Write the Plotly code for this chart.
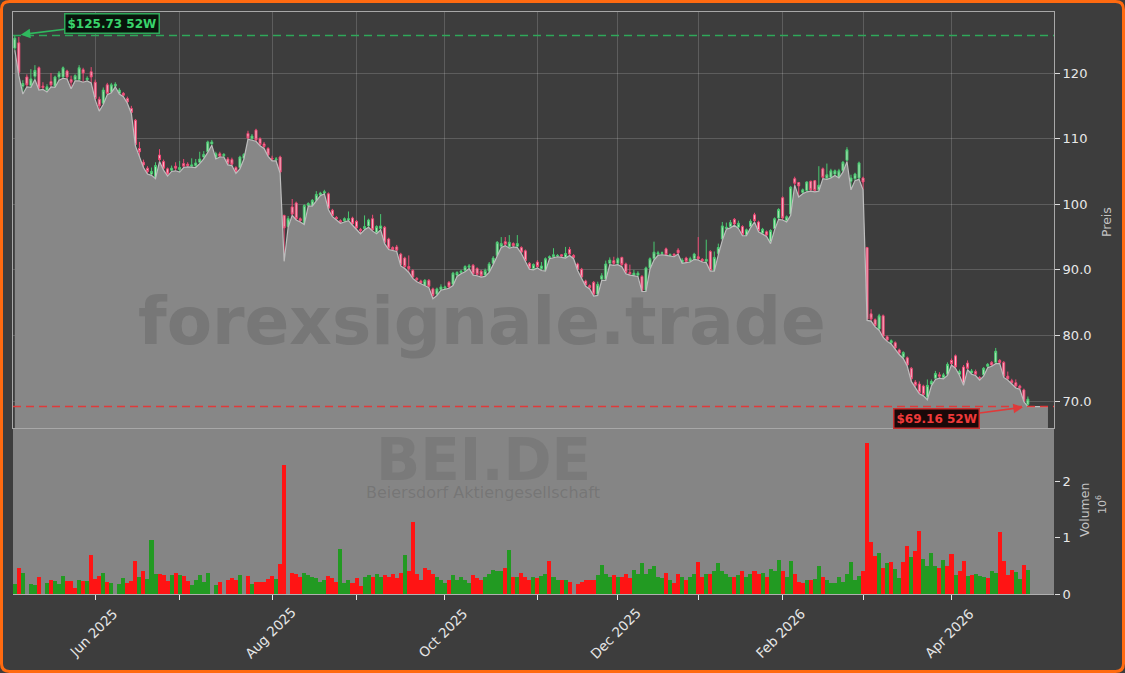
import pandas as pd
import plotly.graph_objects as go

# ---------------- data ----------------
opens = [123.8,124.6,118.0,119.4,118.1,119.5,120.8,118.0,117.4,118.7,118.0,119.4,119.4,120.3,119.0,119.0,119.0,120.5,119.0,120.2,
         118.6,116.0,115.4,118.2,117.1,118.0,116.9,116.9,116.1,114.6,112.8,108.5,106.4,105.5,104.6,104.1,107.5,106.5,105.4,105.2,
         105.8,105.3,106.2,106.1,105.8,105.9,106.4,107.2,108.0,109.2,107.1,107.7,107.4,106.9,106.8,105.6,105.6,107.0,110.8,110.0,
         111.3,110.0,109.2,108.5,107.0,106.8,107.2,98.3,96.6,99.6,100.2,97.8,97.0,99.8,99.8,100.6,101.4,101.7,101.6,99.1,
         98.0,97.5,97.5,97.6,97.9,97.4,96.2,96.3,96.7,97.8,95.7,96.3,96.5,94.7,93.4,93.5,92.4,91.8,90.5,89.9,
         88.7,88.3,87.6,88.4,87.1,86.3,87.0,87.2,88.1,87.8,89.2,89.6,89.9,90.4,90.7,90.2,89.8,89.2,89.8,91.0,
         92.2,93.6,94.3,93.5,94.0,93.6,93.4,92.9,91.0,90.2,91.2,90.2,89.9,91.8,92.0,92.1,92.3,91.9,93.1,92.2,
         90.9,90.1,88.3,87.6,88.1,86.3,88.6,88.6,91.0,91.4,91.0,91.9,90.9,89.6,89.2,89.2,89.0,86.9,90.3,91.7,
         92.4,92.5,93.2,92.2,92.4,93.0,91.1,91.8,91.3,91.7,92.0,91.6,91.3,92.8,89.9,92.5,94.7,96.3,96.6,97.7,
         96.5,96.6,95.3,96.6,98.4,97.3,95.6,95.8,94.3,96.3,97.9,101.0,97.5,98.5,103.9,103.3,101.8,102.1,103.5,103.6,
         102.2,105.4,104.0,104.1,104.6,104.1,105.1,106.7,103.5,103.9,104.0,104.0,93.4,83.3,82.4,81.0,83.0,79.8,78.9,78.9,
         77.8,76.7,76.6,75.0,72.9,72.6,72.3,70.6,72.6,73.5,74.0,73.6,74.1,76.2,76.9,74.1,75.2,75.8,74.3,74.5,
         73.6,74.0,75.3,75.9,75.9,76.2,75.9,73.8,73.1,72.8,72.3,71.7,69.5]
highs = [125.73,125.5,118.9,119.8,120.6,121.2,121.0,118.6,118.3,120.0,119.6,120.3,121.0,120.5,119.6,119.8,121.2,120.8,119.5,120.9,
         119.0,116.4,117.8,118.5,118.5,118.6,117.7,117.1,116.4,115.0,113.0,109.5,106.8,105.8,105.6,106.4,108.4,106.8,105.6,105.9,
         106.4,106.6,106.9,106.4,107.0,106.9,108.0,108.1,109.7,109.8,108.0,108.0,107.8,107.2,107.1,105.8,107.4,107.8,111.2,110.7,
         111.5,110.2,109.5,108.7,107.4,107.2,107.4,98.4,98.2,100.8,100.4,98.0,100.0,100.3,100.8,102.0,101.9,102.2,101.8,99.3,
         98.2,97.7,98.0,98.9,98.1,97.6,96.4,98.3,97.8,98.4,96.8,98.5,96.7,94.9,93.6,93.8,92.6,92.0,92.2,90.1,
         88.9,88.5,88.6,88.6,87.3,87.3,87.8,87.6,88.3,89.7,89.8,90.0,90.7,90.9,90.9,90.4,90.0,90.2,91.2,92.1,
         94.4,95.0,95.0,95.3,94.2,95.3,93.6,93.1,91.2,91.0,91.5,91.2,91.9,92.2,93.3,92.4,92.4,93.5,93.5,92.4,
         91.1,90.3,88.5,87.8,88.3,88.2,89.5,91.4,91.9,92.0,91.9,92.0,91.1,90.8,90.0,89.8,89.2,90.5,91.9,94.3,
         92.9,92.8,93.4,92.5,92.5,93.3,91.8,92.0,92.0,92.6,95.0,91.8,94.6,93.0,92.8,94.0,97.3,97.2,97.6,97.9,
         97.5,96.8,96.3,97.7,98.7,97.5,96.4,96.0,96.2,98.0,99.4,101.2,98.3,102.8,104.2,103.4,102.4,103.5,103.6,103.7,
         105.8,105.6,106.2,105.4,105.3,105.4,106.6,108.7,104.5,104.8,106.5,104.2,93.5,84.0,82.6,83.3,83.2,80.0,79.4,79.1,
         78.0,77.6,76.8,75.2,73.2,73.0,72.5,73.3,73.3,74.6,74.4,74.3,75.9,76.5,77.1,74.8,75.5,76.2,74.9,74.8,
         73.8,75.2,75.8,76.1,78.1,76.4,76.1,74.5,73.4,73.3,72.5,71.9,70.7]
lows = [123.5,119.6,116.8,117.9,117.8,119.0,117.4,117.5,117.1,117.9,117.8,118.9,119.2,119.1,117.6,118.8,118.8,118.6,118.8,118.5,
        115.9,114.2,115.2,116.7,117.0,117.9,116.8,116.4,115.4,113.8,108.9,107.2,105.6,104.6,104.4,103.9,106.5,105.2,104.3,105.0,
        105.1,104.9,105.6,105.7,105.6,105.6,106.2,106.9,107.9,109.0,106.9,107.2,107.2,106.0,105.9,104.7,105.4,106.9,109.9,109.8,
        109.6,108.9,108.5,107.3,106.6,106.6,104.7,91.3,96.5,98.3,97.6,97.3,96.9,99.7,99.7,100.5,101.3,101.6,99.2,98.1,
        97.6,97.1,97.3,97.5,96.8,96.2,95.5,96.1,96.5,95.9,95.5,96.1,94.0,93.1,92.9,92.8,90.6,90.2,89.6,88.7,
        88.2,87.9,87.5,87.3,85.6,86.1,86.9,87.0,87.2,87.6,89.0,89.4,89.7,90.2,89.2,89.1,88.9,89.0,89.6,90.8,
        92.0,93.4,93.7,93.3,93.5,93.4,92.5,91.2,90.1,90.0,90.3,89.9,89.8,91.7,91.9,92.0,91.9,91.8,92.2,91.7,
        89.9,88.7,87.5,87.1,86.0,86.1,88.4,88.4,90.8,90.7,90.8,90.5,89.4,89.2,89.1,89.0,86.7,86.7,90.1,91.5,
        92.2,92.3,92.2,92.1,92.0,92.4,91.0,91.1,91.2,91.6,91.5,91.2,91.1,89.8,89.8,92.3,94.5,96.2,96.4,96.8,
        96.3,95.2,95.2,96.4,97.3,95.8,95.4,95.1,94.0,96.1,97.7,97.6,97.3,98.3,102.9,101.1,101.6,101.9,102.0,101.9,
        102.0,103.9,103.8,104.0,104.4,104.0,104.9,106.5,102.2,103.6,103.8,102.2,82.3,82.2,81.3,80.8,79.7,79.1,78.7,77.9,
        77.1,76.5,75.3,73.0,72.0,71.1,70.8,70.2,72.3,73.3,73.5,73.4,73.9,75.5,75.0,73.9,72.4,74.8,74.1,73.9,
        73.2,73.8,75.1,75.3,75.7,75.7,73.6,73.2,72.6,72.0,71.8,69.9,69.16]
closes = [125.3,120.1,118.4,118.2,119.1,120.4,117.7,117.8,117.9,118.2,119.4,120.0,120.8,119.4,118.6,119.6,120.8,120.0,119.2,119.4,
          116.1,115.0,117.4,116.9,118.2,118.3,117.4,116.6,115.6,114.0,109.1,108.0,106.0,105.0,105.0,105.9,106.8,105.5,104.6,105.5,
          105.5,105.6,105.8,105.9,106.0,106.3,106.9,107.6,109.5,109.5,107.7,107.3,107.6,106.2,106.1,105.0,107.2,107.6,110.1,110.4,
          109.8,109.1,108.8,107.5,106.9,106.9,104.9,96.4,97.8,98.5,97.8,97.5,99.8,100.1,100.6,101.5,101.7,101.9,99.4,98.3,
          97.8,97.3,97.8,97.8,97.0,96.4,96.0,96.6,97.6,96.1,96.6,96.7,94.2,93.3,93.1,93.0,90.8,90.5,90.2,88.9,
          88.5,88.0,88.4,87.5,86.1,87.1,87.4,87.4,87.4,89.5,89.6,89.8,90.5,90.6,89.4,89.3,89.1,89.9,90.9,91.8,
          94.2,94.0,93.9,94.2,93.7,94.0,92.7,91.4,90.3,90.8,90.5,90.6,91.7,92.0,92.3,92.2,92.1,92.5,92.4,91.9,
          90.1,88.9,87.7,87.3,86.3,87.8,89.1,90.9,91.5,91.0,91.7,90.8,89.6,89.4,89.5,89.5,86.9,90.3,91.7,92.7,
          92.6,92.6,92.3,92.3,92.2,92.6,91.5,91.3,91.7,92.4,91.7,91.4,91.6,89.9,91.9,93.4,96.7,96.5,97.2,97.0,
          97.1,95.4,96.1,97.4,97.5,96.0,96.2,95.3,96.0,97.8,99.2,97.9,98.1,102.6,103.2,102.8,102.2,103.4,102.2,102.1,
          102.9,104.1,104.5,105.1,105.1,105.1,106.4,108.3,104.0,104.6,106.3,103.4,82.5,82.5,81.5,83.0,79.9,79.3,79.2,78.1,
          77.3,77.4,75.5,73.4,72.4,71.3,71.0,72.4,73.0,74.2,73.8,74.0,75.6,75.7,75.2,74.5,72.6,75.0,74.6,74.1,
          73.4,75.0,75.6,75.5,77.6,75.9,73.8,73.4,72.8,72.3,72.0,70.0,70.3]
# volume in millions of shares, and bar colour (1 = green, 0 = red) as seen in the picture
volume_mio = [0.18,0.46,0.37,0.0,0.18,0.16,0.31,0.0,0.20,0.25,0.23,0.18,0.32,0.23,0.23,0.10,0.25,0.23,0.23,0.70,
              0.27,0.32,0.37,0.22,0.20,0.0,0.18,0.29,0.20,0.23,0.59,0.31,0.41,0.27,0.96,0.35,0.35,0.34,0.23,0.34,
              0.37,0.34,0.32,0.23,0.16,0.25,0.34,0.22,0.37,0.0,0.16,0.22,0.0,0.25,0.29,0.25,0.34,0.0,0.32,0.18,
              0.22,0.22,0.22,0.27,0.32,0.27,0.53,2.29,0.0,0.37,0.35,0.30,0.38,0.33,0.30,0.28,0.22,0.25,0.32,0.28,
              0.22,0.80,0.20,0.25,0.20,0.28,0.15,0.30,0.33,0.30,0.35,0.30,0.33,0.30,0.35,0.28,0.38,0.70,0.40,1.28,
              0.35,0.25,0.47,0.42,0.35,0.30,0.25,0.20,0.25,0.33,0.25,0.30,0.25,0.20,0.33,0.28,0.25,0.30,0.35,0.42,
              0.40,0.40,0.47,0.78,0.30,0.30,0.38,0.30,0.25,0.30,0.28,0.32,0.35,0.58,0.30,0.25,0.25,0.25,0.22,0.0,
              0.18,0.22,0.25,0.25,0.25,0.33,0.52,0.35,0.30,0.33,0.30,0.30,0.35,0.28,0.42,0.35,0.55,0.35,0.45,0.50,
              0.30,0.28,0.38,0.25,0.20,0.35,0.30,0.25,0.30,0.35,0.57,0.30,0.35,0.35,0.40,0.55,0.40,0.35,0.30,0.30,
              0.33,0.40,0.30,0.35,0.40,0.35,0.38,0.30,0.45,0.40,0.60,0.40,0.30,0.58,0.35,0.22,0.19,0.25,0.24,0.27,
              0.50,0.31,0.25,0.20,0.20,0.31,0.22,0.35,0.56,0.24,0.32,0.41,2.69,0.92,0.67,0.72,0.46,0.55,0.57,0.45,
              0.29,0.57,0.86,0.65,0.77,1.12,0.63,0.49,0.72,0.50,0.46,0.61,0.50,0.71,0.34,0.41,0.59,0.32,0.34,0.35,
              0.32,0.31,0.29,0.41,0.37,1.10,0.59,0.34,0.43,0.39,0.27,0.52,0.43]
volume_up = [1,0,1,0,1,1,0,0,1,0,1,1,1,0,0,0,1,0,1,0,
             0,0,1,0,1,1,1,1,0,0,0,1,0,1,1,1,0,0,0,1,
             0,1,0,0,1,1,1,1,1,1,1,0,0,0,0,0,1,1,0,1,
             0,0,0,0,0,1,0,0,0,0,0,0,1,1,1,1,1,1,0,0,
             0,1,1,1,0,0,0,1,1,0,1,1,0,0,0,0,0,1,0,0,
             0,0,0,0,0,1,1,1,0,1,1,1,1,1,0,0,0,1,1,1,
             1,1,0,1,0,1,0,0,0,1,0,1,1,0,1,1,0,1,0,0,
             0,0,0,0,0,1,1,1,1,0,1,0,0,0,1,1,1,1,1,1,
             1,1,0,1,0,0,1,0,1,1,0,0,1,0,1,1,1,1,1,0,
             1,0,1,1,0,0,1,0,1,1,1,0,1,1,0,0,0,1,0,1,
             1,0,1,1,1,1,1,1,1,1,1,0,0,0,0,1,0,1,0,1,
             1,0,0,1,0,0,1,1,1,1,0,1,0,0,1,0,0,1,0,1,
             1,1,0,1,1,0,0,0,0,1,1,0,1]

holidays = ["2025-12-24", "2025-12-25", "2025-12-26", "2026-01-01", "2026-04-03", "2026-04-06"]
dates = [d for d in pd.bdate_range("2025-05-05", "2026-04-30") if d.strftime("%Y-%m-%d") not in holidays]
symbol = "BEI.DE"
company = "Beiersdorf Aktiengesellschaft"
watermark = "forexsignale.trade"
price_ticks = [70, 80, 90, 100, 110, 120]
price_ticktext = ["70.0", "80.0", "90.0", "100", "110", "120"]

# ---------------- styling constants ----------------
BG = "#3d3d3d"
FILL = "#878787"
W, H = 1125, 673
ML, MR, MT, MB = 13, 71, 12, 79
PW, PH = W - ML - MR, H - MT - MB
SPLIT = (594 - 428) / PH          # volume panel height fraction
FONT = "DejaVu Sans"
FILL_EXT = 5

n = len(closes)
idx = list(range(n))

# month ticks (first trading day of each month)
month_pos, month_lbl = [], []
prev = dates[0].month
for i, d in enumerate(dates):
    if d.month != prev:
        month_pos.append(i)
        month_lbl.append(d.strftime("%b %Y") if d.month % 2 == 0 else "")
        prev = d.month

fig = go.Figure()

# price area (lows) with flat extension
area_x = idx + [idx[-1] + FILL_EXT]
area_y = lows + [lows[-1]]
fig.add_trace(go.Scatter(x=area_x, y=area_y, mode="lines", fill="tozeroy",
                         fillcolor=FILL, line=dict(color="#bdbdbd", width=1.2),
                         hoverinfo="skip", showlegend=False, xaxis="x", yaxis="y"))

fig.add_trace(go.Candlestick(
    x=idx, open=opens, high=highs, low=lows, close=closes,
    increasing=dict(line=dict(color="#48c870", width=1), fillcolor="#b4e8bc"),
    decreasing=dict(line=dict(color="#ee4874", width=1), fillcolor="#f9bccb"),
    showlegend=False, xaxis="x", yaxis="y"))

vol_colors = ["#229a22" if u else "#ff1414" for u in volume_up]
fig.add_trace(go.Bar(x=idx, y=volume_mio, marker=dict(color=vol_colors, line=dict(width=0)),
                     width=1.0, showlegend=False, xaxis="x2", yaxis="y2"))

x_range = [-0.45, 258.5]
fig.update_layout(
    width=W, height=H,
    margin=dict(l=ML, r=MR, t=MT, b=MB),
    paper_bgcolor=BG, plot_bgcolor=BG,
    font=dict(family=FONT, color="#e6e6e6", size=13),
    bargap=0,
    xaxis=dict(domain=[0, 1], anchor="y", range=x_range, rangeslider=dict(visible=False),
               tickvals=month_pos, showticklabels=False, ticks="",
               showgrid=True, gridcolor="rgba(255,255,255,0.17)", gridwidth=1,
               showline=True, mirror=True, linecolor="#a8a8a8", linewidth=1, zeroline=False),
    yaxis=dict(domain=[SPLIT, 1], anchor="x", side="right", range=[65.9, 129.3],
               tickvals=price_ticks, ticktext=price_ticktext,
               ticks="outside", ticklen=5, tickcolor="#dddddd", tickfont=dict(size=13, color="#e8e8e8"),
               showgrid=True, gridcolor="rgba(255,255,255,0.17)", gridwidth=1,
               showline=True, mirror=True, linecolor="#a8a8a8", linewidth=1, zeroline=False),
    xaxis2=dict(domain=[0, 1], anchor="y2", range=x_range, matches="x",
                tickvals=month_pos, showticklabels=False, ticks="outside", ticklen=5,
                tickcolor="#e6e6e6", showgrid=False, showline=True, linecolor="#b0b0b0",
                linewidth=1, zeroline=False),
    yaxis2=dict(domain=[0, SPLIT], anchor="x2", side="right", range=[0, 2.95],
                tickvals=[0, 1, 2], ticktext=["0", "1", "2"],
                ticks="outside", ticklen=5, tickcolor="#dddddd", tickfont=dict(size=13, color="#e8e8e8"),
                showgrid=False, showline=False, zeroline=False),
)

def px2paper(px, py):
    return (px - ML) / PW, (H - MB - py) / PH

shapes = []
# volume panel background
shapes.append(dict(type="rect", xref="x2 domain", yref="y2 domain", x0=0, x1=1, y0=0, y1=1,
                   fillcolor="#858585", line=dict(width=0), layer="below"))
hi_val, lo_val = max(highs), min(lows)
shapes.append(dict(type="line", xref="x domain", yref="y", x0=0, x1=1, y0=hi_val, y1=hi_val,
                   line=dict(color="#2fa85a", width=1.5, dash="8px,5px")))
shapes.append(dict(type="line", xref="x domain", yref="y", x0=0, x1=1, y0=lo_val, y1=lo_val,
                   line=dict(color="#e03a3a", width=1.5, dash="8px,5px")))
# rounded orange frame around the figure
L_, T_, R_, B_, r = 1.5, 1.5, W - 1.5, H - 1.5, 8
pts = lambda a, b: "%.5f,%.5f" % px2paper(a, b)
path = ("M " + pts(L_ + r, T_) + " L " + pts(R_ - r, T_) + " Q " + pts(R_, T_) + " " + pts(R_, T_ + r) +
        " L " + pts(R_, B_ - r) + " Q " + pts(R_, B_) + " " + pts(R_ - r, B_) +
        " L " + pts(L_ + r, B_) + " Q " + pts(L_, B_) + " " + pts(L_, B_ - r) +
        " L " + pts(L_, T_ + r) + " Q " + pts(L_, T_) + " " + pts(L_ + r, T_) + " Z")
shapes.append(dict(type="path", xref="paper", yref="paper", path=path,
                   line=dict(color="#ff6a10", width=3)))
fig.update_layout(shapes=shapes)

ann = []
def text_at(px, py, text, size, color, angle=0, bold=False):
    x_, y_ = px2paper(px, py)
    ann.append(dict(x=x_, y=y_, xref="paper", yref="paper", xanchor="center", yanchor="middle",
                    text=("<b>%s</b>" % text) if bold else text, showarrow=False, textangle=angle,
                    font=dict(size=size, color=color, family=FONT)))

# watermark texts
text_at(482, 321, watermark, 66, "rgba(55,55,55,0.2)", bold=True)
text_at(483, 460, symbol, 58, "rgba(55,55,55,0.14)", bold=True)
text_at(483, 492, company, 16, "rgba(55,55,55,0.2)")
# 52W labels
i_hi = highs.index(hi_val)
i_lo = lows.index(lo_val)
ann.append(dict(x=i_hi, y=hi_val, xref="x", yref="y", ax=97, ay=-12, axref="pixel", ayref="pixel",
                text="<b>$%.2f 52W</b>" % hi_val, showarrow=True, arrowhead=2, arrowsize=1.2, arrowwidth=1.6,
                arrowcolor="#2fb85e", standoff=6, font=dict(size=12, color="#39d46c", family=FONT),
                bgcolor="#08140b", bordercolor="#2fa85a", borderwidth=1.5, borderpad=2))
ann.append(dict(x=i_lo, y=lo_val, xref="x", yref="y", ax=-91, ay=12, axref="pixel", ayref="pixel",
                text="<b>$%.2f 52W</b>" % lo_val, showarrow=True, arrowhead=2, arrowsize=1.2, arrowwidth=1.6,
                arrowcolor="#e03a3a", standoff=5, font=dict(size=12, color="#f03a3a", family=FONT),
                bgcolor="#1a0909", bordercolor="#c83030", borderwidth=1.5, borderpad=2))
# x tick labels rotated 45 degrees, centred on the ticks
for p, lbl in zip(month_pos, month_lbl):
    if lbl:
        ann.append(dict(x=p, y=0, xref="x2", yref="paper", text=lbl, showarrow=False, textangle=-45,
                        xanchor="center", yanchor="middle", yshift=-39, xshift=-2,
                        font=dict(size=13.5, color="#e6e6e6", family=FONT)))
# axis titles
text_at(1106, 222, "Preis", 12.5, "#c4c4c4", angle=-90)
text_at(1084, 510, "Volumen", 12.5, "#c4c4c4", angle=-90)
text_at(1101, 505, "10<sup>6</sup>", 11, "#c4c4c4", angle=-90)
fig.update_layout(annotations=ann)

fig.write_html("out.html", config={"displayModeBar": False},
               post_script="document.body.style.margin='0';document.body.style.overflow='hidden';")
